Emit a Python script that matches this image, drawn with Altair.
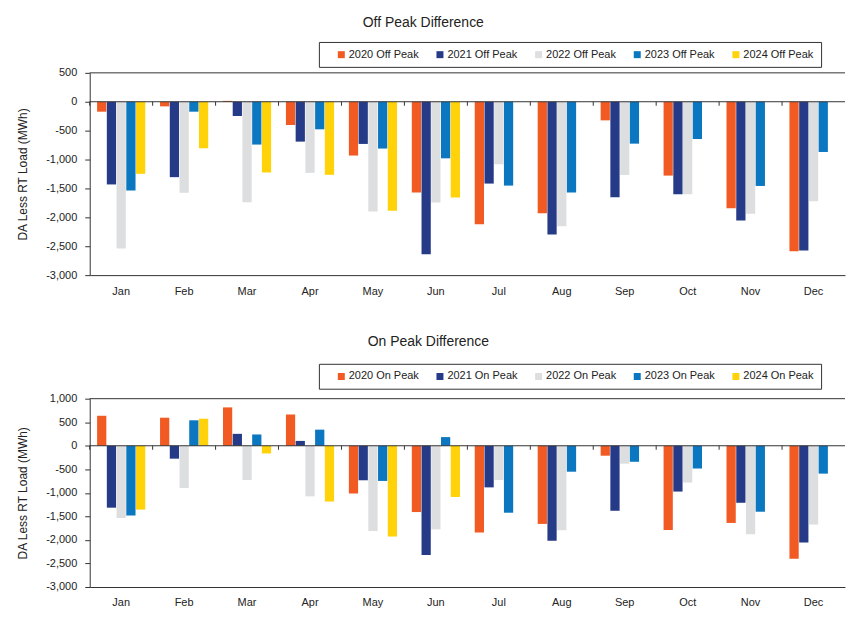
import altair as alt
import pandas as pd

months = ["Jan", "Feb", "Mar", "Apr", "May", "Jun", "Jul", "Aug", "Sep", "Oct", "Nov", "Dec"]
years = ["2020", "2021", "2022", "2023", "2024"]
colors = ["#F15A22", "#253B87", "#DDDEE0", "#0A77C0", "#FFD20A"]

off_2020 = [-172, -80, 15, -402, -931, -1572, -2119, -1929, -322, -1278, -1842, -2585]
off_2021 = [-1431, -1305, -247, -690, -730, -2637, -1416, -2297, -1652, -1600, -2055, -2573]
off_2022 = [-2540, -1575, -1741, -1230, -1897, -1744, -1082, -2153, -1267, -1600, -1940, -1721]
off_2023 = [-1534, -172, -741, -477, -810, -979, -1451, -1572, -725, -645, -1457, -869]
off_2024 = [-1247, -805, -1224, -1264, -1885, -1658]

on_2020 = [637, 596, 815, 664, -1014, -1408, -1844, -1660, -211, -1789, -1639, -2401]
on_2021 = [-1315, -274, 253, 103, -733, -2320, -884, -2020, -1381, -973, -1211, -2054]
on_2022 = [-1534, -897, -726, -1075, -1808, -1776, -728, -1796, -381, -782, -1878, -1673]
on_2023 = [-1479, 541, 240, 342, -747, 184, -1422, -551, -340, -483, -1401, -592]
on_2024 = [-1356, 575, -164, -1185, -1925, -1088]

y_title = "DA Less RT Load (MWh)"
FONT = "Arial, Liberation Sans, sans-serif"
INK = "#222222"
LINE = "#333333"


def long_table(series, suffix):
    rows = []
    for yr, vals in zip(years, series):
        for m, v in zip(months, vals):
            rows.append({"month": m, "year": yr, "label": f"{yr} {suffix}", "value": v})
    return pd.DataFrame(rows)


def panel(series, suffix, ymin, ymax, height, title, title_dx, title_offset, legend_y):
    df = long_table(series, suffix)
    labels = [f"{yr} {suffix}" for yr in years]
    yscale = alt.Scale(domain=[ymin, ymax], nice=False, zero=False)
    yaxis = alt.Axis(
        values=list(range(ymin, ymax + 1, 500)),
        labelExpr="replace(format(datum.value, ','), '\u2212', '-')",
        labelOverlap=False,
        grid=False, tickSize=5, tickColor=LINE, domainColor=LINE,
        labelFontSize=11, labelColor=INK, labelPadding=8,
        titleFontSize=12, titleFontWeight="normal", titleColor=INK, titlePadding=16,
    )
    xscale = alt.Scale(domain=months, paddingInner=0, paddingOuter=0)
    xaxis = alt.Axis(labelAngle=0, ticks=False, domainColor=LINE,
                     labelFontSize=11, labelColor=INK, labelPadding=10)

    bars = alt.Chart(df).mark_bar().encode(
        x=alt.X("month:N", sort=months, scale=xscale, title=None, axis=xaxis),
        xOffset=alt.XOffset("year:N", scale=alt.Scale(domain=years, paddingInner=0.05, paddingOuter=0.76)),
        y=alt.Y("value:Q", scale=yscale, axis=yaxis, title=y_title),
        color=alt.Color(
            "label:N", scale=alt.Scale(domain=labels, range=colors),
            legend=alt.Legend(
                orient="none", legendX=230, legendY=legend_y, direction="horizontal",
                columns=5, title=" ", titleOrient="left", titlePadding=10,
                symbolType="square", symbolSize=49, symbolStrokeWidth=0,
                labelFontSize=11, labelColor=INK, labelOffset=2,
                columnPadding=15, padding=7, strokeColor=LINE,
            ),
        ),
    )

    top_df = pd.DataFrame({"value": [ymax]})
    zero_df = pd.DataFrame({"value": [0]})
    tick_df = pd.DataFrame({"month": months, "value": [0] * len(months)})

    frame = alt.Chart(top_df).mark_rule(color=LINE, strokeWidth=1).encode(
        y=alt.Y("value:Q", scale=yscale, axis=yaxis, title=y_title)
    )
    zero = alt.Chart(zero_df).mark_rule(color=LINE, strokeWidth=1).encode(
        y=alt.Y("value:Q", scale=yscale, axis=yaxis, title=y_title)
    )
    ticks = alt.Chart(tick_df).mark_rule(color=LINE, strokeWidth=1, y2Offset=4).encode(
        x=alt.X("month:N", sort=months, scale=xscale, bandPosition=0, title=None, axis=xaxis),
        y=alt.Y("value:Q", scale=yscale, axis=yaxis, title=y_title),
        y2=alt.Y2("value"),
    )

    return alt.layer(bars, frame, zero, ticks).properties(
        width=758, height=height,
        title=alt.TitleParams(title, anchor="start", frame="group", dx=title_dx,
                              fontSize=14, fontWeight="normal", color=INK, offset=title_offset),
    )


top = panel([off_2020, off_2021, off_2022, off_2023, off_2024], "Off Peak",
            -3000, 500, 203, "Off Peak Difference", 274, 12, -31)
bottom = panel([on_2020, on_2021, on_2022, on_2023, on_2024], "On Peak",
               -3000, 1000, 189, "On Peak Difference", 279, 14, -35)

chart = alt.vconcat(top, bottom, spacing=39).resolve_scale(
    color="independent", xOffset="independent"
).resolve_legend(color="independent").properties(
    padding={"left": 8, "top": 6, "right": 0, "bottom": 2}
).configure(font=FONT).configure_view(stroke=None)

chart.save("out.html", embed_options={"renderer": "svg", "actions": False})
